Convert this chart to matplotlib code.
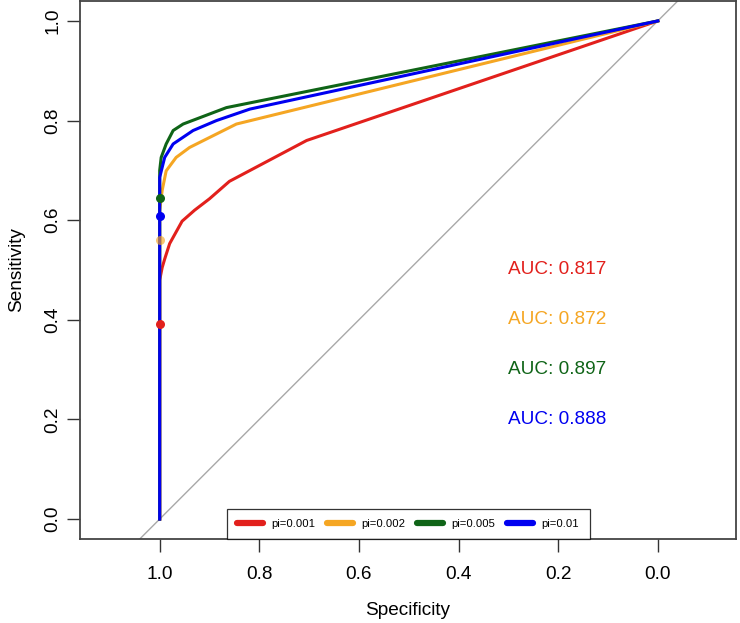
import matplotlib
matplotlib.use("Agg")
import matplotlib.pyplot as plt

plt.rcParams['font.family'] = ['Liberation Sans', 'DejaVu Sans']

# ROC curves (specificity, sensitivity)
labels = ['pi=0.001', 'pi=0.002', 'pi=0.005', 'pi=0.01']
colors = ['#E2201C', '#F5A623', '#0F6417', '#0000F0']
auc_vals = [0.817, 0.872, 0.897, 0.888]

red_spec = [1, 1, 1, 0.995, 0.99, 0.98, 0.955, 0.93, 0.9, 0.86, 0.705, 0]
red_sens = [0, 0.392, 0.48, 0.505, 0.522, 0.553, 0.598, 0.62, 0.643, 0.678, 0.76, 1]
orange_spec = [1, 1, 1, 0.995, 0.987, 0.967, 0.94, 0.846, 0]
orange_sens = [0, 0.56, 0.62, 0.66, 0.699, 0.726, 0.746, 0.793, 1]
green_spec = [1, 1, 1, 0.997, 0.987, 0.973, 0.953, 0.866, 0]
green_sens = [0, 0.645, 0.7, 0.726, 0.753, 0.78, 0.793, 0.826, 1]
blue_spec = [1, 1, 1, 0.99, 0.973, 0.933, 0.886, 0.819, 0]
blue_sens = [0, 0.609, 0.686, 0.726, 0.753, 0.78, 0.80, 0.823, 1]

# best threshold points (all at specificity 1)
best_sens = [0.392, 0.56, 0.645, 0.609]

specs = [red_spec, orange_spec, green_spec, blue_spec]
senss = [red_sens, orange_sens, green_sens, blue_sens]
auc_y = [0.5, 0.4, 0.3, 0.2]

fig = plt.figure(figsize=(7.4, 6.23), dpi=100)
ax = fig.add_axes([80/740, 84/623, 656/740, 538/623])

# identity line
ax.plot([1.2, -0.2], [-0.2, 1.2], color='#A8A8A8', lw=1, zorder=1)

for i in range(4):
    ax.plot(specs[i], senss[i], color=colors[i], lw=2.2, label=labels[i], zorder=2)
    ax.plot(1, best_sens[i], 'o', color=colors[i], ms=6.5, mew=0,
            alpha=0.65 if i == 1 else 1, zorder=3)
    ax.text(0.3, auc_y[i], 'AUC: %.3f' % auc_vals[i], color=colors[i],
            fontsize=13.7, ha='left', va='center')

ax.set_xlim(1.16, -0.157)
ax.set_ylim(-0.04, 1.04)
ax.set_xticks([1.0, 0.8, 0.6, 0.4, 0.2, 0.0])
ax.set_yticks([0.0, 0.2, 0.4, 0.6, 0.8, 1.0])
ax.set_xticklabels(['1.0', '0.8', '0.6', '0.4', '0.2', '0.0'])
ax.set_yticklabels(['0.0', '0.2', '0.4', '0.6', '0.8', '1.0'], rotation=90, va='center')
ax.tick_params(length=9.4, width=1, color='#333333', labelsize=13.7)
ax.tick_params(axis='x', pad=10)
ax.tick_params(axis='y', pad=4)
for s in ax.spines.values():
    s.set_color('#444444')
    s.set_linewidth(1.3)

ax.set_xlabel('Specificity', fontsize=13.7, labelpad=14)
ax.set_ylabel('Sensitivity', fontsize=13.7, labelpad=14)

leg = ax.legend(loc='lower center', bbox_to_anchor=(0.5, 0), ncol=4, fontsize=8.1,
                frameon=True, fancybox=False, borderaxespad=0, handlelength=2.3,
                handletextpad=0.8, columnspacing=1.0, borderpad=0.9)
leg.get_frame().set_edgecolor('black')
leg.get_frame().set_linewidth(0.9)
for h in leg.get_lines():
    h.set_linewidth(4.5)
    h.set_solid_capstyle('round')

fig.savefig('out.png', dpi=100)
